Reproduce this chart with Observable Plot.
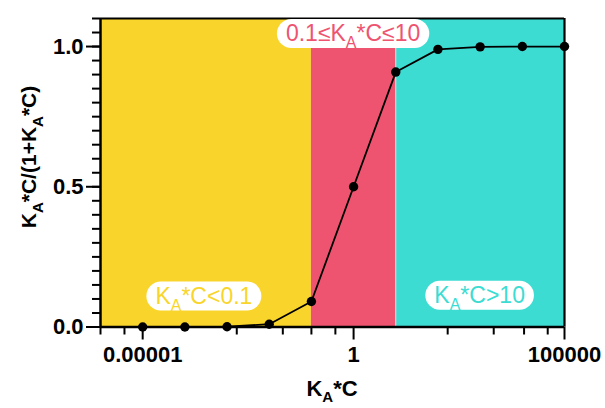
<!DOCTYPE html>
<html><head><meta charset="utf-8">
<script src="https://cdn.jsdelivr.net/npm/d3@7"></script>
<script src="https://cdn.jsdelivr.net/npm/@observablehq/plot@0.6"></script>
<style>
body{margin:0;background:#fff;}
svg{font-family:"Liberation Sans",Arial,sans-serif;}
</style>
</head><body><div id="chart"></div>
<script>
// ---- data ----
const kaC = [1e-5, 1e-4, 1e-3, 1e-2, 0.1, 1, 10, 100, 1000, 1e4, 1e5];
const fraction = [0.00001, 0.0001, 0.001, 0.0099, 0.091, 0.5, 0.909, 0.990, 0.999, 1.0, 1.0];

const regionStart = [1e-6, 0.1, 10];
const regionEnd = [0.1, 10, 1e5];
const regionColors = ["#F9D52C", "#EE5470", "#3CDCD3"];

const xMajorTicks = [1e-5, 1, 1e5];
const xTickLabels = ["0.00001", "1", "100000"];
const xMinorTicks = [1e-6, 3.7e-6, 1.7e-3, 0.021, 0.1, 0.37, 170, 2100, 11000, 40000];
const yMajorTicks = [0, 0.5, 1.0];
const yTickLabels = ["0.0", "0.5", "1.0"];
const yMinorTicks = d3.range(0, 23).map(i => +(i * 0.05).toFixed(2));

const labelBefore = ["K", "0.1\u2264K", "K"];
const labelSub = ["A", "A", "A"];
const labelAfter = ["*C<0.1", "*C\u226410", "*C>10"];
const labelX = [2.9e-4, 1, 1000];
const labelY = [0.109, 1.045, 0.111];

const xTitle = ["K", "A", "*C"];
const yTitle = ["K", "A", "*C/(1+K", "A", "*C)"];

// ---- tables ----
const points = kaC.map((x, i) => ({x, y: fraction[i]}));
const regions = regionStart.map((s, i) => ({x1: s, x2: regionEnd[i], y1: 0, y2: 1.1, fill: regionColors[i]}));

const plot = Plot.plot({
  width: 605, height: 408,
  marginLeft: 100, marginRight: 41, marginTop: 18, marginBottom: 81.5,
  x: {type: "log", domain: [1e-6, 1e5]},
  y: {domain: [0, 1.1]},
  color: {type: "identity"},
  style: {fontFamily: '"Liberation Sans", Arial, sans-serif', background: "white", color: "black"},
  marks: [
    Plot.rect(regions, {x1: "x1", x2: "x2", y1: "y1", y2: "y2", fill: "fill"}),
    Plot.ruleX([10], {stroke: "#f4c9cf", strokeWidth: 1}),
    Plot.axisY(yMinorTicks, {tickSize: 8, text: null, label: null, strokeWidth: 2}),
    Plot.axisY(yMajorTicks, {tickSize: 14, tickPadding: 3, tickFormat: d => yTickLabels[yMajorTicks.indexOf(d)], fontSize: 22, fontWeight: "bold", label: null, strokeWidth: 2}),
    Plot.axisX(xMinorTicks, {tickSize: 8, text: null, label: null, strokeWidth: 2}),
    Plot.axisX(xMajorTicks, {tickSize: 13, tickPadding: 6, tickFormat: d => xTickLabels[xMajorTicks.indexOf(d)], fontSize: 22, fontWeight: "bold", label: null, strokeWidth: 2}),
    Plot.ruleY([0], {strokeWidth: 2.5}),
    Plot.ruleX([1e-6], {strokeWidth: 2.5}),
    Plot.ruleY([1.1], {strokeWidth: 2.2}),
    Plot.ruleX([1e5], {strokeWidth: 2.2}),
    Plot.line(points, {x: "x", y: "y", stroke: "black", strokeWidth: 1.8}),
    Plot.dot(points, {x: "x", y: "y", r: 4.7, fill: "black"})
  ]
});
document.getElementById("chart").appendChild(plot);

const sx = plot.scale("x"), sy = plot.scale("y");
const svg = d3.select(plot);

function addSubText(sel, parts, subSize, shift) {
  parts.forEach((p, i) => {
    const isSub = i % 2 === 1;
    const t = sel.append("tspan").text(p);
    if (isSub) t.attr("font-size", subSize).attr("dy", shift);
    else if (i > 0) t.attr("dy", -shift);
  });
}

// region labels
labelBefore.forEach((b, i) => {
  const g = svg.append("g").attr("transform", `translate(${sx.apply(labelX[i])},${sy.apply(labelY[i])})`);
  const rect = g.append("rect");
  const t = g.append("text").attr("text-anchor", "middle").attr("font-size", 23)
    .attr("fill", regionColors[i]).attr("y", 8);
  addSubText(t, [b, labelSub[i], labelAfter[i]], 16, 7);
  const bb = t.node().getBBox();
  const h = 29, w = bb.width + 18;
  rect.attr("x", -w / 2).attr("y", -h / 2).attr("width", w).attr("height", h)
    .attr("rx", h / 2).attr("fill", "white");
});

// axis titles
const xc = (sx.range[0] + sx.range[1]) / 2;
const xt = svg.append("text").attr("x", xc).attr("y", 396).attr("text-anchor", "middle")
  .attr("font-size", 22).attr("font-weight", "bold").attr("fill", "black");
addSubText(xt, xTitle, 15, 6);

const yt = svg.append("text").attr("transform", "translate(36,157) rotate(-90)").attr("text-anchor", "middle")
  .attr("font-size", 21).attr("font-weight", "bold").attr("fill", "black");
addSubText(yt, yTitle, 15, 7);
</script>
</body></html>
